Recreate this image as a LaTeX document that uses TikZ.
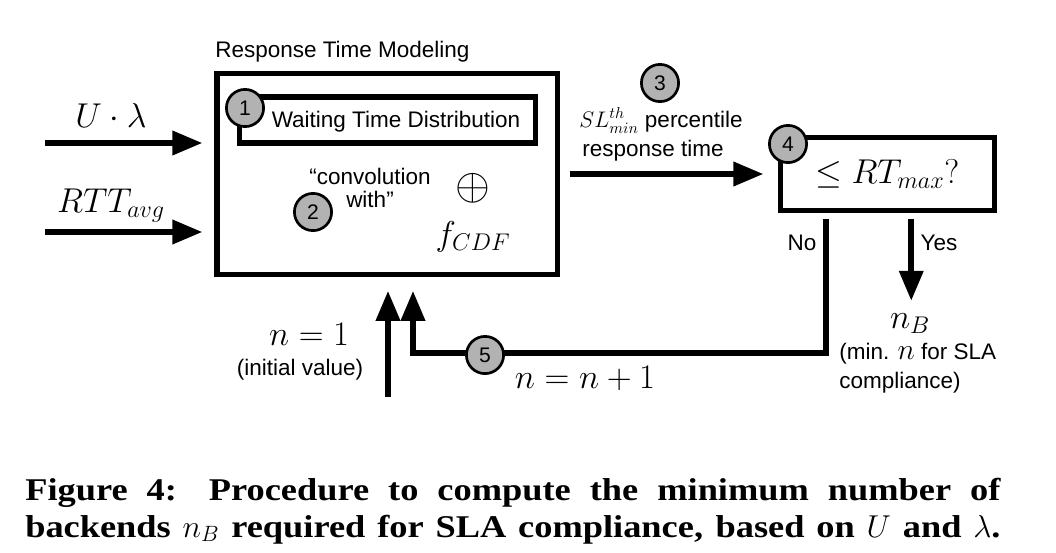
\RequirePackage{fix-cm}
\documentclass[tikz,border=0pt]{standalone}
\usepackage{fontspec}
\setmainfont{Liberation Serif}
\setsansfont{Liberation Sans}
\newfontfamily\capfam{Liberation Serif}[FakeStretch=1.15]
\usepackage{amsmath}
\usetikzlibrary{arrows.meta,positioning,calc}

\begin{document}
\begin{tikzpicture}[x=0.025cm,y=-0.025cm]
\colorlet{step area}{black!30}
\tikzset{
     modbox/.style={draw, line width=3.6pt, inner sep=0pt},
     stepno/.style={circle, draw, line width=1.9pt, fill=step area, minimum size=0.93cm, inner sep=0pt, font=\sffamily\fontsize{15}{15}\selectfont},
     flow/.style={line width=4.2pt, -{Triangle[length=0.75cm,width=0.58cm]}},
     txt/.style={inner sep=0pt, font=\sffamily\fontsize{16}{20.6}\selectfont},
     mth/.style={inner sep=0pt, font=\fontsize{24.5}{28}\selectfont},
     capfont/.style={inner sep=0pt, font=\capfam\bfseries\fontsize{22.5}{26}\selectfont}}
\useasboundingbox (0,0) rectangle (1056,552);

% The boxes
\node (rtm) [modbox, minimum width=8.51cm, minimum height=5.03cm] at (387.25,174) {};
\node (wtd) [modbox, minimum width=7.375cm, minimum height=1.15cm] at (387.5,120) {};
\node (rtcheck) [modbox, mth, minimum width=5.36cm, minimum height=1.825cm] at (887.25,174) {$\leq RT_{max}?$};

% The labels inside
\node (rtmtitle) [txt, anchor=base west] at (215,57) {Response Time Modeling};
\node (wtdtext) [txt] at (396,122) {Waiting Time Distribution};
\node (conv) [txt, align=center, font=\sffamily\fontsize{16}{16.4}\selectfont] at (370,188) {“convolution\\with”};
\node (oplus) [mth] at (473,188) {\scalebox{1.3}{$\oplus$}};
\node (fcdf) [mth, anchor=base] at (473,245) {$f_{CDF}$};

% The inputs
\coordinate (uin) at (45,143);
\coordinate (rttin) at (45,232);
\node (ulam) [mth, anchor=base] at (111,127) {$U\cdot\lambda$};
\node (rtt) [mth, anchor=base] at (111,212) {$RTT_{avg}$};
\draw [flow, shorten >=0.3cm] (uin) -- (uin -| rtm.west);
\draw [flow, shorten >=0.3cm] (rttin) -- (rttin -| rtm.west);

% The percentile
\node (sllabel) [txt, anchor=base] at (661,127) {$SL^{th}_{min}$ percentile};
\node (resp) [txt, anchor=base] at (653,156) {response time};
\draw [flow, shorten <=0.24cm, shorten >=0.35cm] (rtm.east) -- (rtcheck.west);

% The decision
\coordinate (nofork) at ([xshift=-1.53cm]rtcheck.south);
\coordinate (yesfork) at ([xshift=0.6cm]rtcheck.south);
\coordinate (back) at (413,353);
\node (no) [txt] at (802,243) {No};
\node (yes) [txt] at (939,243) {Yes};
\node (nB) [mth, anchor=base] at (910,328) {$n_B$};
\node (minn) [txt, align=left, anchor=west] at (839,368) {(min. {\fontsize{21}{20}\selectfont$n$} for SLA\\compliance)};
\draw [flow, shorten <=0.16cm, shorten >=0.3cm] (yesfork) -- (yesfork |- nB.north);
\draw [flow, shorten <=0.16cm, shorten >=0.34cm] (nofork) |- (back) -- (back |- rtm.south);

% The start value
\coordinate (init) at (388,397);
\node (none) [mth, anchor=base] at (309,345) {$n=1$};
\node (initval) [txt] at (300,370) {(initial value)};
\node (nnext) [mth, anchor=base] at (585,388) {$n=n+1$};
\draw [flow, shorten >=0.34cm] (init) -- (init |- rtm.south);

% The step numbers
\node (s1) [stepno] at (245,108) {1};
\node (s2) [stepno] at (313,212) {2};
\node (s3) [stepno] at (660,83) {3};
\node (s4) [stepno] at (788,144) {4};
\node (s5) [stepno] at (485,355) {5};

% The caption
\node (cap1) [capfont, anchor=base west] at (25,500) {\makebox[24.375cm][s]{Figure 4: Procedure to compute the minimum number of}};
\node (cap2) [capfont, anchor=base west] at (25,537) {\makebox[24.375cm][s]{backends $n_B$ required for SLA compliance, based on $U$ and $\lambda$.}};
\end{tikzpicture}
\end{document}
